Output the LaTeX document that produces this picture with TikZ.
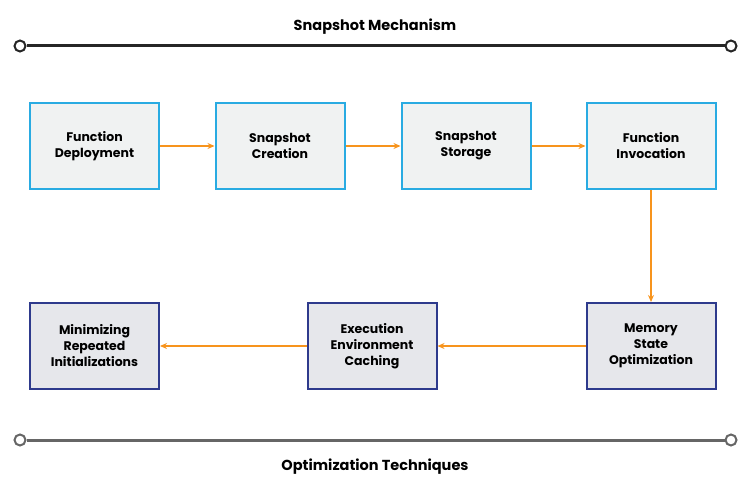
\documentclass[tikz,border=0pt]{standalone}
\usepackage{fontspec}
\setmainfont{Poppins}
\usetikzlibrary{arrows.meta}
\definecolor{topb}{HTML}{29ABE2}
\definecolor{topf}{HTML}{F0F2F2}
\definecolor{botb}{HTML}{2E3A8C}
\definecolor{botf}{HTML}{E6E7EB}
\definecolor{arr}{HTML}{F7941D}
\begin{document}
\begin{tikzpicture}[x=1pt,y=-1pt,
  topbox/.style={draw=topb,fill=topf,line width=2pt,minimum width=129pt,minimum height=86pt,align=center,font=\bfseries\fontsize{12.5}{16}\selectfont},
  botbox/.style={draw=botb,fill=botf,line width=2pt,minimum width=129pt,minimum height=86pt,align=center,font=\bfseries\fontsize{12.5}{16}\selectfont},
  flow/.style={draw=arr,line width=1.2pt,-{Stealth[length=7pt,width=6pt]}},
  endc/.style={circle,draw,line width=2pt,fill=white,inner sep=0pt,minimum size=11pt}]
\useasboundingbox (0,0) rectangle (750,500);
\node[font=\bfseries\fontsize{14.5}{17}\selectfont] (t1) at (375,27) {Snapshot Mechanism};
\node[font=\bfseries\fontsize{14.5}{17}\selectfont] (t2) at (375,467) {Optimization Techniques};
\node[endc,draw=black!85] (a1) at (20,46) {};
\node[endc,draw=black!85] (a2) at (731,46) {};
\draw[black!85,line width=3pt] (a1) -- (a2);
\node[endc,draw=black!60] (b1) at (20,440) {};
\node[endc,draw=black!60] (b2) at (731,440) {};
\draw[black!60,line width=3pt] (b1) -- (b2);
\node[topbox] (n1) at (94.5,146) {Function\\Deployment};
\node[topbox] (n2) at (280,146) {Snapshot\\Creation};
\node[topbox] (n3) at (466,146) {Snapshot\\Storage};
\node[topbox] (n4) at (651,146) {Function\\Invocation};
\node[botbox] (m1) at (651,346) {Memory\\State\\Optimization};
\node[botbox] (m2) at (372,346) {Execution\\Environment\\Caching};
\node[botbox] (m3) at (94.5,346) {Minimizing\\Repeated\\Initializations};
\draw[flow] (n1) -- (n2);
\draw[flow] (n2) -- (n3);
\draw[flow] (n3) -- (n4);
\draw[flow] (n4) -- (m1);
\draw[flow] (m1) -- (m2);
\draw[flow] (m2) -- (m3);
\end{tikzpicture}
\end{document}
